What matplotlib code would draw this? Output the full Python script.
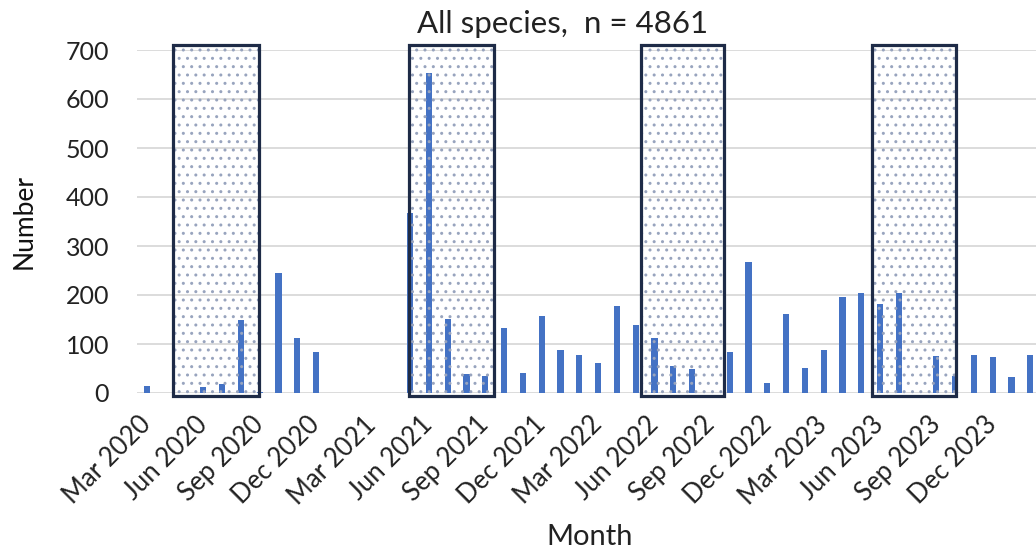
import pandas as pd
import matplotlib.pyplot as plt
from matplotlib.patches import Rectangle

plt.rcParams['font.family'] = ['Lato', 'DejaVu Sans']
plt.rcParams['hatch.linewidth'] = 1.0

# monthly counts, Mar 2020 .. Feb 2024
months = pd.date_range('2020-03-01', periods=48, freq='MS')
counts = [15, 0, 0, 12, 18, 150, 3, 244, 112, 84,
          0, 0, 0, 0, 367, 653, 152, 38, 34, 133, 41, 158,
          87, 78, 61, 178, 139, 112, 56, 50, 0, 84, 267, 20,
          161, 52, 87, 196, 204, 182, 204, 0, 76, 35, 78, 73,
          33, 78]

# tick labels every 3 months
tick_idx = list(range(0, 48, 3))[:16]
tick_labels = [months[i].strftime('%b %Y') for i in tick_idx]

# dotted "season" boxes (start, end in month positions)
seasons = [(1.38, 5.96), (13.94, 18.46), (26.26, 30.69), (38.55, 43.03)]

x = list(range(len(months)))

fig = plt.figure(figsize=(10.36, 5.52), dpi=100)
ax = fig.add_axes([137 / 1036, 1 - 393 / 552, 1 - 137 / 1036, (393 - 50) / 552])

ax.bar(x, counts, width=0.33, color='#4472C4', zorder=2)

for s, e in seasons:
    dots = Rectangle((s, -6), e - s, 716, facecolor='none', edgecolor='#98A4BE',
                     hatch='..', linewidth=0, zorder=3, clip_on=False)
    ax.add_patch(dots)
    box = Rectangle((s, -6), e - s, 716, facecolor='none', edgecolor='#1E2B47',
                    linewidth=2.3, zorder=4, clip_on=False)
    ax.add_patch(box)

ax.set_xlim(-0.53, 47.3)
ax.set_ylim(0, 700)
ax.set_yticks(range(0, 701, 100))
ax.set_xticks(tick_idx)
ax.set_xticklabels(tick_labels, rotation=45, ha='right', va='center',
                   rotation_mode='anchor', fontsize=18.5)
ax.tick_params(axis='both', length=0, colors='#222222')
ax.tick_params(axis='y', labelsize=18, pad=20)
ax.tick_params(axis='x', pad=20)

ax.yaxis.grid(True, color='#D9D9D9', linewidth=1.3, zorder=0)
ax.set_axisbelow(True)
for sp in ax.spines.values():
    sp.set_visible(False)

fig.text(563 / 1036, 1 - 24 / 552, 'All species,  n = 4861', fontsize=22.5,
         color='#222222', ha='center', va='center')
ax.set_ylabel('Number', fontsize=19, color='#111111', labelpad=21)
fig.text(590 / 1036, 1 - 537 / 552, 'Month', fontsize=21, color='#222222',
         ha='center', va='center')

plt.savefig('out.png', dpi=100)
